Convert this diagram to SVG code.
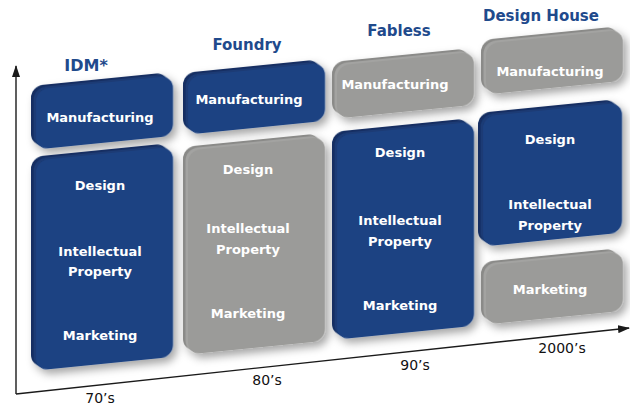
<svg xmlns="http://www.w3.org/2000/svg" width="630" height="407" viewBox="0 0 630 407">
  <style>
    .title { font-family: "DejaVu Sans", Verdana, sans-serif; font-weight: bold; font-size: 15px; fill: #1f4a8c; text-anchor: middle; }
    .lbl { font-family: "DejaVu Sans", Verdana, sans-serif; font-weight: bold; font-size: 13px; fill: #ffffff; text-anchor: middle; }
    .era { font-family: "DejaVu Sans", Verdana, sans-serif; font-size: 14px; fill: #111; text-anchor: middle; }
    .blue .back { fill: #132e62; }
    .blue .mid { fill: #1a3a74; }
    .blue .face { fill: #1d4282; }
    .gray .back { fill: #8a8a88; }
    .gray .mid { fill: #a3a3a1; }
    .gray .face { fill: #9b9b99; }
    .axis { stroke: #1a1a1a; stroke-width: 1.4; fill: none; }
  </style>
  <defs>
    <filter id="shadow" x="-20%" y="-20%" width="150%" height="150%">
      <feDropShadow dx="4" dy="5" stdDeviation="4" flood-color="#000" flood-opacity="0.35"/>
    </filter>
    <marker id="arrow" viewBox="0 0 12 8" refX="11" refY="4" markerWidth="12" markerHeight="8" markerUnits="userSpaceOnUse" orient="auto">
      <path d="M0,0 L12,4 L0,8 Z" fill="#1a1a1a"/>
    </marker>
  </defs>

  <rect width="630" height="407" fill="#ffffff"/>

  <!-- time / scope axes -->
  <g id="connectors">
    <line class="axis" x1="16" y1="394" x2="16" y2="66" marker-end="url(#arrow)"/>
    <line class="axis" x1="16" y1="394" x2="629" y2="328" marker-end="url(#arrow)"/>
  </g>

  <!-- era labels -->
  <text class="era" x="100" y="403">70’s</text>
  <text class="era" x="267" y="385">80’s</text>
  <text class="era" x="415" y="370">90’s</text>
  <text class="era" x="562" y="353">2000’s</text>

  <!-- business model headings -->
  <text class="title" x="86" y="71" style="font-size:16px">IDM*</text>
  <text class="title" x="247" y="50">Foundry</text>
  <text class="title" x="399" y="36">Fabless</text>
  <text class="title" x="541" y="21">Design House</text>

  <!-- IDM column -->
  <g id="idm-manufacturing">
    <g class="blue" filter="url(#shadow)" transform="translate(31,86) skewY(-5.7)">
      <rect class="back" x="0" y="0" width="137" height="60" rx="12"/>
      <rect class="mid" x="2.5" y="2" width="137" height="60" rx="12"/>
      <rect class="face" x="5" y="4" width="137" height="60" rx="12"/>
    </g>
    <text class="lbl" x="100" y="122">Manufacturing</text>
  </g>
  <g id="idm-design-ip-marketing">
    <g class="blue" filter="url(#shadow)" transform="translate(31,157) skewY(-5.7)">
      <rect class="back" x="0" y="0" width="137" height="210" rx="12"/>
      <rect class="mid" x="2.5" y="2" width="137" height="210" rx="12"/>
      <rect class="face" x="5" y="4" width="137" height="210" rx="12"/>
    </g>
    <text class="lbl" x="100" y="190">Design</text>
    <text class="lbl" x="100" y="256">Intellectual</text>
    <text class="lbl" x="100" y="276">Property</text>
    <text class="lbl" x="100" y="340">Marketing</text>
  </g>

  <!-- Foundry column -->
  <g id="foundry-manufacturing">
    <g class="blue" filter="url(#shadow)" transform="translate(183,73) skewY(-5.7)">
      <rect class="back" x="0" y="0" width="137" height="58" rx="12"/>
      <rect class="mid" x="2.5" y="2" width="137" height="58" rx="12"/>
      <rect class="face" x="5" y="4" width="137" height="58" rx="12"/>
    </g>
    <text class="lbl" x="249" y="104">Manufacturing</text>
  </g>
  <g id="foundry-design-ip-marketing">
    <g class="gray" filter="url(#shadow)" transform="translate(183,147) skewY(-5.7)">
      <rect class="back" x="0" y="0" width="137" height="204" rx="12"/>
      <rect class="mid" x="2.5" y="2" width="137" height="204" rx="12"/>
      <rect class="face" x="5" y="4" width="137" height="204" rx="12"/>
    </g>
    <text class="lbl" x="248" y="174">Design</text>
    <text class="lbl" x="248" y="233">Intellectual</text>
    <text class="lbl" x="248" y="254">Property</text>
    <text class="lbl" x="248" y="318">Marketing</text>
  </g>

  <!-- Fabless column -->
  <g id="fabless-manufacturing">
    <g class="gray" filter="url(#shadow)" transform="translate(332,62) skewY(-5.7)">
      <rect class="back" x="0" y="0" width="137" height="53" rx="12"/>
      <rect class="mid" x="2.5" y="2" width="137" height="53" rx="12"/>
      <rect class="face" x="5" y="4" width="137" height="53" rx="12"/>
    </g>
    <text class="lbl" x="395" y="89">Manufacturing</text>
  </g>
  <g id="fabless-design-ip-marketing">
    <g class="blue" filter="url(#shadow)" transform="translate(332,132) skewY(-5.7)">
      <rect class="back" x="0" y="0" width="137" height="204" rx="12"/>
      <rect class="mid" x="2.5" y="2" width="137" height="204" rx="12"/>
      <rect class="face" x="5" y="4" width="137" height="204" rx="12"/>
    </g>
    <text class="lbl" x="400" y="157">Design</text>
    <text class="lbl" x="400" y="225">Intellectual</text>
    <text class="lbl" x="400" y="246">Property</text>
    <text class="lbl" x="400" y="310">Marketing</text>
  </g>

  <!-- Design House column -->
  <g id="designhouse-manufacturing">
    <g class="gray" filter="url(#shadow)" transform="translate(481,40) skewY(-5.7)">
      <rect class="back" x="0" y="0" width="137" height="51" rx="12"/>
      <rect class="mid" x="2.5" y="2" width="137" height="51" rx="12"/>
      <rect class="face" x="5" y="4" width="137" height="51" rx="12"/>
    </g>
    <text class="lbl" x="550" y="76">Manufacturing</text>
  </g>
  <g id="designhouse-design-ip">
    <g class="blue" filter="url(#shadow)" transform="translate(478,113) skewY(-5.7)">
      <rect class="back" x="0" y="0" width="139" height="130" rx="12"/>
      <rect class="mid" x="2.5" y="2" width="139" height="130" rx="12"/>
      <rect class="face" x="5" y="4" width="139" height="130" rx="12"/>
    </g>
    <text class="lbl" x="550" y="144">Design</text>
    <text class="lbl" x="550" y="209">Intellectual</text>
    <text class="lbl" x="550" y="230">Property</text>
  </g>
  <g id="designhouse-marketing">
    <g class="gray" filter="url(#shadow)" transform="translate(481,262) skewY(-5.7)">
      <rect class="back" x="0" y="0" width="137" height="59" rx="12"/>
      <rect class="mid" x="2.5" y="2" width="137" height="59" rx="12"/>
      <rect class="face" x="5" y="4" width="137" height="59" rx="12"/>
    </g>
    <text class="lbl" x="550" y="294">Marketing</text>
  </g>
</svg>
